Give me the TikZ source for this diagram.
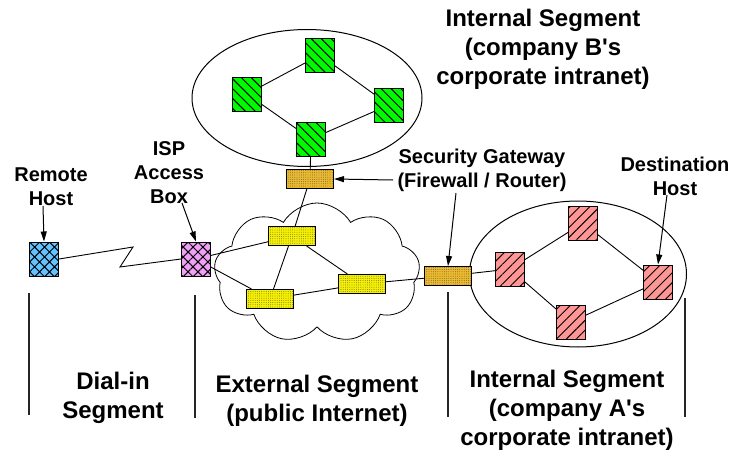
\documentclass[tikz,border=0pt]{standalone}
\usepackage{fontspec}
\setmainfont{Liberation Sans}
\usepackage{tikz}
\usetikzlibrary{shapes.geometric}
\usetikzlibrary{shapes.symbols}
\usetikzlibrary{patterns.meta}
\usetikzlibrary{arrows.meta}
\definecolor{hostblue}{RGB}{100,195,255}
\definecolor{ispviolet}{RGB}{240,160,245}
\definecolor{netgreen}{RGB}{0,250,0}
\definecolor{netred}{RGB}{255,150,150}
\definecolor{rtyellow}{RGB}{245,240,0}
\definecolor{gworange}{RGB}{235,185,45}
\tikzstyle{sq}=[draw, rectangle, line width=1pt, minimum width=29pt, minimum height=34pt, inner sep=0pt]
\tikzstyle{xhost}=[sq, pattern color=black, pattern={Hatch[angle=45,distance=7pt,line width=1pt]}]
\tikzstyle{bhost}=[sq, preaction={fill=netgreen}, pattern color=black, pattern={Lines[angle=-45,distance=7pt,line width=1pt]}]
\tikzstyle{ahost}=[sq, preaction={fill=netred}, pattern color=black, pattern={Lines[angle=45,distance=7pt,line width=0.9pt]}]
\tikzstyle{rtr}=[draw, rectangle, line width=1pt, minimum width=47pt, minimum height=19pt, inner sep=0pt, pattern color=black!70, pattern={Dots[distance=2.2pt,radius=0.4pt]}]
\tikzstyle{lbl}=[align=center, font=\fontsize{20}{24}\selectfont\bfseries]
\tikzstyle{seg}=[align=center, font=\fontsize{24}{29}\selectfont\bfseries]
\tikzstyle{pointer}=[-{Triangle[length=10pt,width=6pt]}, line width=1pt]
\tikzstyle{link}=[line width=0.9pt]
\tikzstyle{sep}=[line width=1.2pt, black!85]
\def\aps{\textquotesingle}
\begin{document}
\begin{tikzpicture}[x=1pt, y=-1pt]
    %\draw [help lines, step=50] (0,0) grid (732,450);
    \useasboundingbox (0,0) rectangle (732,450);

    \node [ellipse, draw, line width=1pt, minimum width=230pt, minimum height=137pt, inner sep=0pt] (lanB) at (307,98) {};
    \node [ellipse, draw, line width=1pt, minimum width=217pt, minimum height=146pt, inner sep=0pt] (lanA) at (578,274) {};
    \node [cloud, draw, line width=0.8pt, cloud puffs=9, cloud puff arc=120, aspect=1.45, minimum width=206pt, minimum height=140pt, inner sep=0pt] (inet) at (317,273) {};

    \node [xhost, preaction={fill=hostblue}]  (rh)  at (44,259)  {};
    \node [xhost, preaction={fill=ispviolet}] (isp) at (196,259) {};

    \node [bhost] (b1) at (320,55)  {};
    \node [bhost] (b2) at (247,94)  {};
    \node [bhost] (b3) at (389,105) {};
    \node [bhost] (b4) at (311,139) {};

    \node [rtr, preaction={fill=gworange}] (gwB) at (310,179) {};
    \node [rtr, preaction={fill=gworange}] (gwA) at (448,276) {};
    \node [rtr, preaction={fill=rtyellow}] (r1)  at (292,236) {};
    \node [rtr, preaction={fill=rtyellow}] (r2)  at (270,299) {};
    \node [rtr, preaction={fill=rtyellow}] (r3)  at (362,284) {};

    \node [ahost] (a1) at (510,269) {};
    \node [ahost] (a2) at (583,223) {};
    \node [ahost] (a3) at (658,282) {};
    \node [ahost] (a4) at (571,322) {};

    \path [link] (b2) edge (b1)
                 (b1) edge (b3)
                 (b3) edge (b4)
                 (b4) edge (b2)
                 (b4) edge (gwB)
                 (isp) edge (r1)
                 (isp) edge (r2)
                 (r1) edge (gwB)
                 (r1) edge (r2)
                 (r1) edge (r3)
                 (r2) edge (r3)
                 (r3) edge (gwA)
                 (gwA) edge (a1)
                 (a1) edge (a2)
                 (a2) edge (a3)
                 (a1) edge (a4)
                 (a4) edge (a3);
    \draw [link] (rh.east) -- (133,247) -- (120,267) -- (isp.west);

    \node [lbl] (rhT)  at (51,187)  {Remote\\Host};
    \node [lbl] (ispT) at (169,173) {ISP\\Access\\Box};
    \node [lbl] (gwT)  at (482,170) {Security Gateway\\(Firewall / Router)};
    \node [lbl] (dstT) at (675,176) {Destination\\Host};
    \node [seg] (lanBT) at (543,49) {Internal Segment\\(company B\aps s\\corporate intranet)};

    \draw [pointer] (43,206) -- (rh.north);
    \draw [pointer] (182,203) -- (isp.north);
    \draw [pointer] (393,180) -- (gwB.east);
    \draw [pointer] (456,193) -- (gwA.north);
    \draw [pointer] (667,195) -- (a3.north);

    \draw [sep] (29,293) -- (29,415);
    \draw [sep] (195,295) -- (195,418);
    \draw [sep] (448,292) -- (448,417);
    \draw [sep] (685,298) -- (685,417);

    \node [seg] (dialT) at (113,398) {Dial-in\\Segment};
    \node [seg] (extT)  at (317,401) {External Segment\\(public Internet)};
    \node [seg] (lanAT) at (567,410) {Internal Segment\\(company A\aps s\\corporate intranet)};
\end{tikzpicture}
\end{document}
